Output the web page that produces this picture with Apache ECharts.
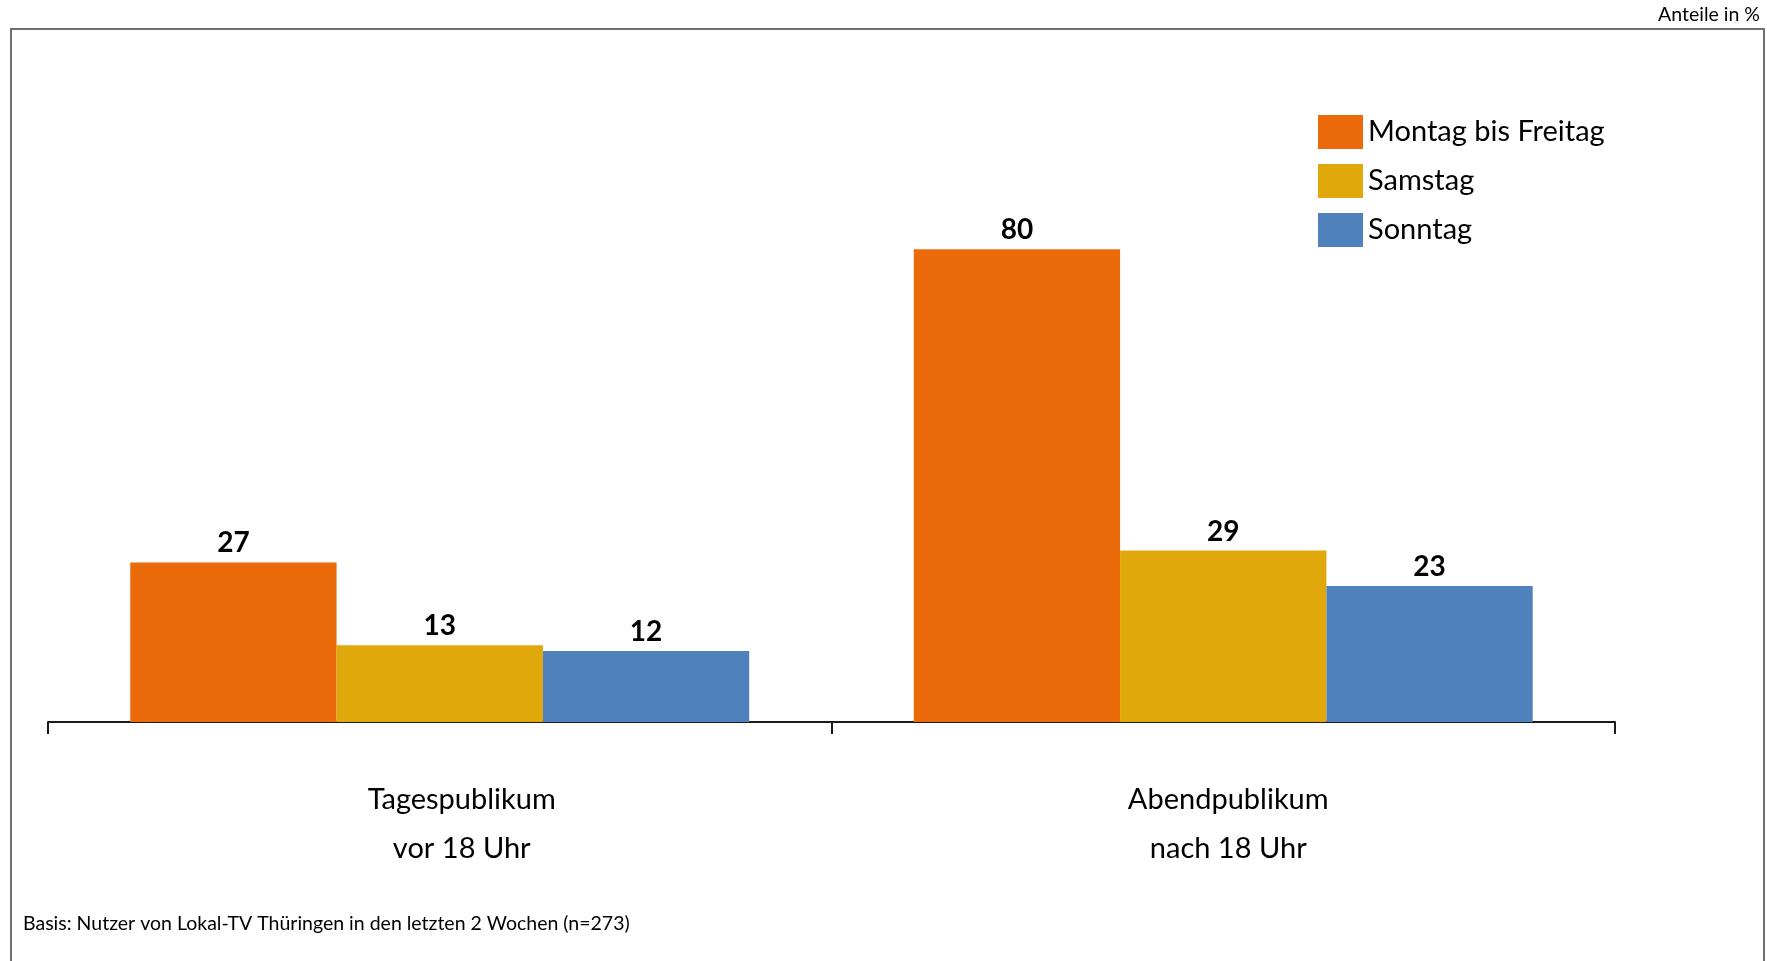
<!DOCTYPE html>
<html>
<head>
<meta charset="utf-8">
<script src="https://cdn.jsdelivr.net/npm/echarts@6/dist/echarts.min.js"></script>
<style>
html,body{margin:0;padding:0;background:#fff;}
#main{width:1767px;height:961px;}
</style>
</head>
<body>
<div id="main"></div>
<script>
const categories = ['Tagespublikum\nvor 18 Uhr', 'Abendpublikum\nnach 18 Uhr'];
const seriesNames = ['Montag bis Freitag', 'Samstag', 'Sonntag'];
const montagBisFreitag = [27, 80];
const samstag = [13, 29];
const sonntag = [12, 23];
const colors = ['#EB6B0A', '#E0A80A', '#4F81BD'];
const FONT = 'Lato, "Open Sans", sans-serif';

const chart = echarts.init(document.getElementById('main'));
const values = [montagBisFreitag, samstag, sonntag];

chart.setOption({
  backgroundColor: '#fff',
  animation: false,
  grid: { left: 48, right: 152, top: 131, bottom: 239, containLabel: false },
  legend: {
    orient: 'vertical',
    left: 1313, top: 110,
    icon: 'rect',
    itemWidth: 45, itemHeight: 34, itemGap: 15,
    textStyle: { fontFamily: FONT, fontSize: 29, color: '#000' },
    data: seriesNames
  },
  xAxis: {
    type: 'category',
    data: categories.map((c, i) => ({ value: c, textStyle: { padding: i === 0 ? [0, 0, 0, 44] : [0, 0, 0, 10] } })),
    axisLine: { lineStyle: { color: '#1a1a1a', width: 2 } },
    axisTick: { show: true, length: 12, lineStyle: { color: '#1a1a1a', width: 2 } },
    axisLabel: { fontFamily: FONT, fontSize: 29, color: '#000', lineHeight: 49, margin: 53 }
  },
  yAxis: { type: 'value', min: 0, max: 100, show: false, splitLine: { show: false } },
  series: seriesNames.map((n, i) => ({
    name: n,
    type: 'bar',
    data: values[i],
    barGap: '0%',
    barCategoryGap: '21%',
    itemStyle: { color: colors[i] },
    label: { show: true, position: 'top', distance: 5, fontFamily: FONT, fontWeight: 'bold', fontSize: 28, color: '#000' }
  })),
  graphic: [
    { type: 'rect', shape: { x: 11, y: 29, width: 1753, height: 1000 }, style: { fill: 'none', stroke: '#6b7078', lineWidth: 2 }, silent: true },
    { type: 'text', right: 7, top: 5, style: { text: 'Anteile in %', fontFamily: FONT, fontSize: 19.5, fill: '#000' } },
    { type: 'text', left: 23, top: 914, style: { text: 'Basis: Nutzer von Lokal-TV Thüringen in den letzten 2 Wochen (n=273)', fontFamily: FONT, fontSize: 19.5, fill: '#000' } }
  ]
});
</script>
</body>
</html>
